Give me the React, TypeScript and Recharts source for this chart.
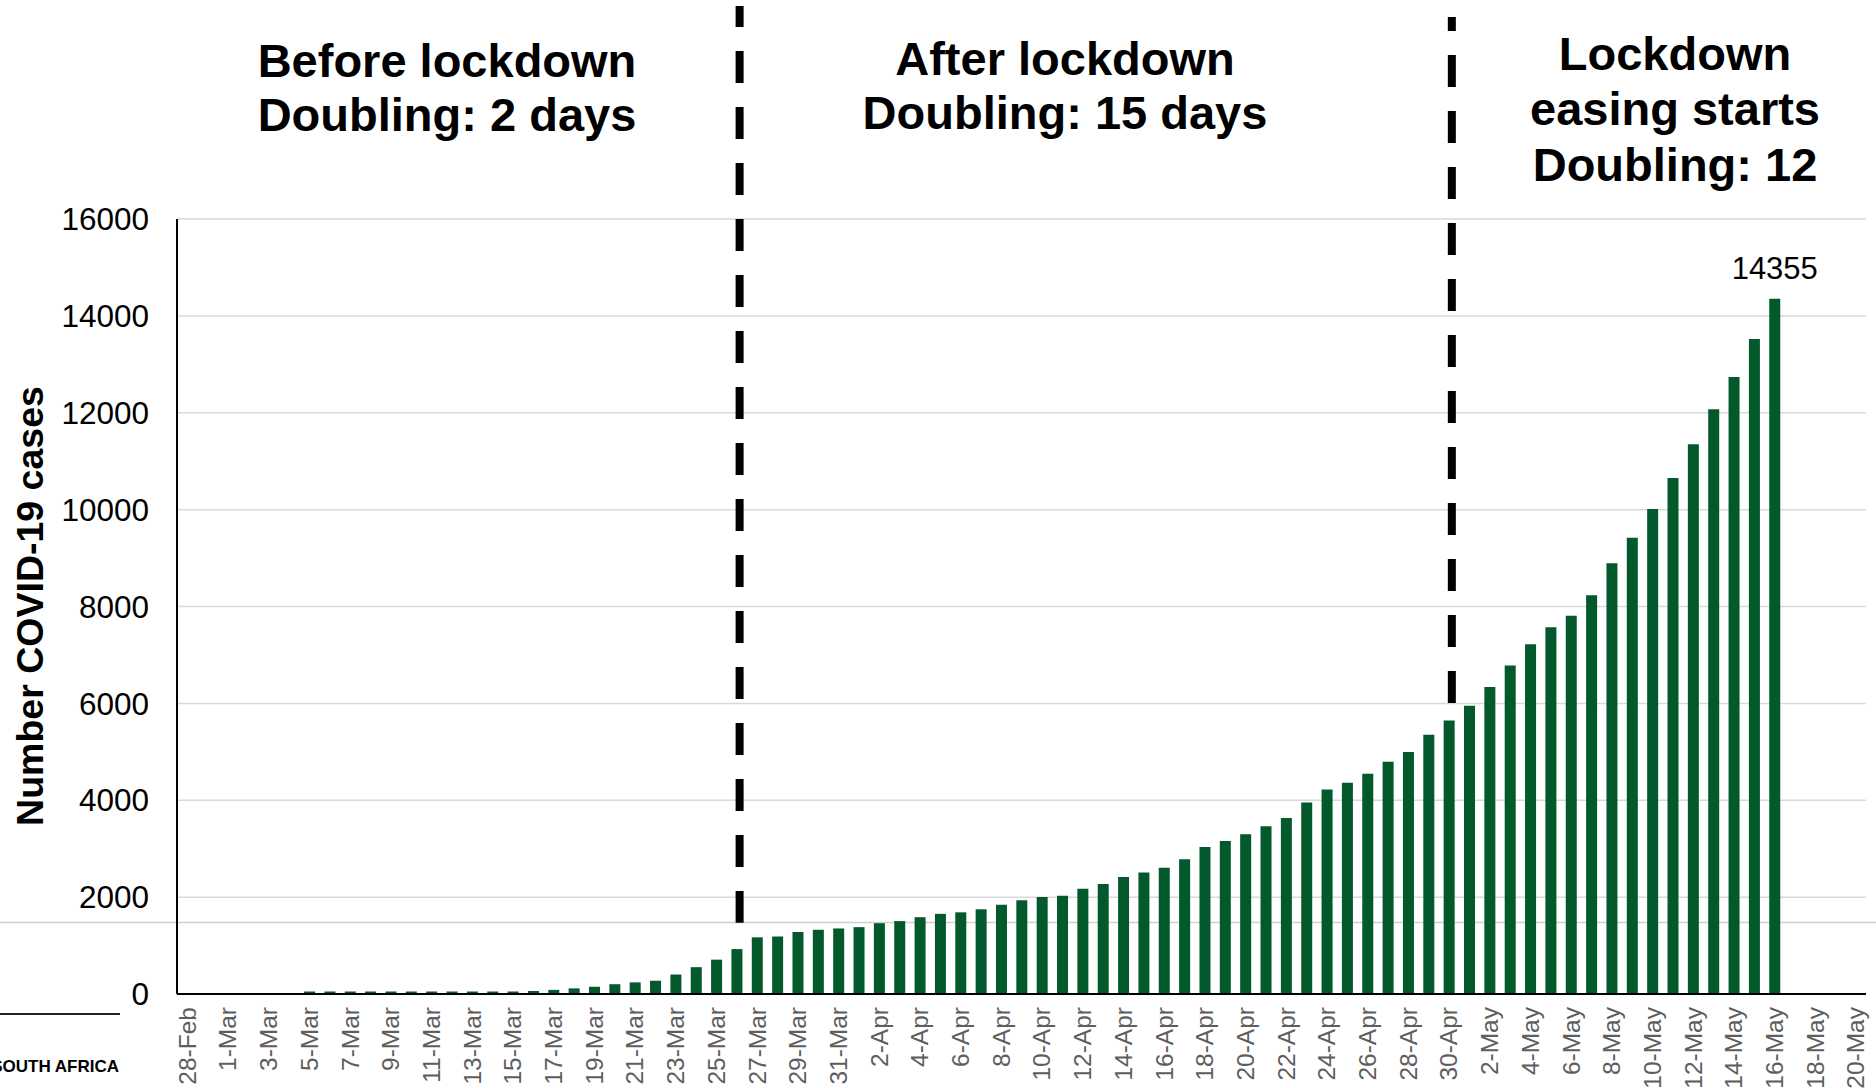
import React from 'react';
import { BarChart, Bar, XAxis, YAxis, CartesianGrid, ReferenceLine, LabelList } from 'recharts';

const FONT = '"Liberation Sans", Arial, Helvetica, sans-serif';

// Tick labels (dates)
const febDates = ['28-Feb', '29-Feb'];
const marDates = [
  '1-Mar', '2-Mar', '3-Mar', '4-Mar', '5-Mar', '6-Mar', '7-Mar', '8-Mar', '9-Mar', '10-Mar',
  '11-Mar', '12-Mar', '13-Mar', '14-Mar', '15-Mar', '16-Mar', '17-Mar', '18-Mar', '19-Mar', '20-Mar',
  '21-Mar', '22-Mar', '23-Mar', '24-Mar', '25-Mar', '26-Mar', '27-Mar', '28-Mar', '29-Mar', '30-Mar', '31-Mar',
];
const aprDates = [
  '1-Apr', '2-Apr', '3-Apr', '4-Apr', '5-Apr', '6-Apr', '7-Apr', '8-Apr', '9-Apr', '10-Apr',
  '11-Apr', '12-Apr', '13-Apr', '14-Apr', '15-Apr', '16-Apr', '17-Apr', '18-Apr', '19-Apr', '20-Apr',
  '21-Apr', '22-Apr', '23-Apr', '24-Apr', '25-Apr', '26-Apr', '27-Apr', '28-Apr', '29-Apr', '30-Apr',
];
const mayDates = [
  '1-May', '2-May', '3-May', '4-May', '5-May', '6-May', '7-May', '8-May', '9-May', '10-May',
  '11-May', '12-May', '13-May', '14-May', '15-May', '16-May', '17-May', '18-May', '19-May', '20-May',
];

// Cumulative COVID-19 cases
const febCases = [0, 0];
const marCases = [
  0, 0, 0, 0, 1, 1, 2, 3, 7, 7,
  13, 16, 24, 38, 51, 62, 85, 116, 150, 202,
  240, 274, 402, 554, 709, 927, 1170, 1187, 1280, 1326, 1353,
];
const aprCases = [
  1380, 1462, 1505, 1585, 1655, 1686, 1749, 1845, 1934, 2003,
  2028, 2173, 2272, 2415, 2506, 2605, 2783, 3034, 3158, 3300,
  3465, 3635, 3953, 4220, 4361, 4546, 4793, 4996, 5350, 5647,
];
const mayCases = [
  5951, 6336, 6783, 7220, 7572, 7808, 8232, 8895, 9420, 10015,
  10652, 11350, 12074, 12739, 13524, 14355, null, null, null, null,
];

const yTicks = [0, 2000, 4000, 6000, 8000, 10000, 12000, 14000, 16000];

const lockdownDate = '26-Mar';
const easingDate = '30-Apr';

const dates = [...febDates, ...marDates, ...aprDates, ...mayDates];
const allCases = [...febCases, ...marCases, ...aprCases, ...mayCases];
const data = dates.map((d, i) => ({ date: d, cases: allCases[i] }));
const peak = Math.max(...(allCases.filter((v) => v != null) as number[]));

const XTick = (props: any) => {
  const { x, y, payload } = props;
  return (
    <text
      transform={`translate(${x},${y}) rotate(-90)`}
      textAnchor="end"
      dy="0.35em"
      fontSize={24.5}
      fill="#5e5e5e"
      fontFamily={FONT}
    >
      {payload.value}
    </text>
  );
};

const dashedShape = (offset: number) => (p: any) => (
  <line
    x1={p.x1 + 3}
    y1={p.y1}
    x2={p.x2 + 3}
    y2={p.y2}
    stroke="#000"
    strokeWidth={8}
    strokeDasharray="32 24"
    strokeDashoffset={offset}
  />
);

const PeakLabel = (p: any) => {
  if (p.value !== peak) return null;
  return (
    <text x={p.x + p.width / 2} y={p.y - 20} textAnchor="middle" fontSize={31} fill="#000" fontFamily={FONT}>
      {p.value}
    </text>
  );
};

const titleStyle = { fontFamily: FONT, fontWeight: 700, fontSize: 47, fill: '#000' } as const;

export default function App() {
  return (
    <div style={{ position: 'absolute', left: 0, top: 0, width: 1876, height: 1088, background: '#fff', overflow: 'hidden' }}>
      <svg width={1876} height={1088} style={{ position: 'absolute', left: 0, top: 0 }}>
        <line x1={0} y1={922.5} x2={1876} y2={922.5} stroke="#d0d0d0" strokeWidth={1.5} />
        <line x1={0} y1={1014} x2={120} y2={1014} stroke="#222" strokeWidth={2} />
        <text x={119} y={1072} textAnchor="end" fontFamily={FONT} fontWeight={700} fontSize={17} fill="#000">
          SOUTH AFRICA
        </text>
        <text textAnchor="middle" style={titleStyle}>
          <tspan x={447} y={77}>Before lockdown</tspan>
          <tspan x={447} y={131}>Doubling: 2 days</tspan>
        </text>
        <text textAnchor="middle" style={titleStyle}>
          <tspan x={1065} y={75}>After lockdown</tspan>
          <tspan x={1065} y={129}>Doubling: 15 days</tspan>
        </text>
        <text textAnchor="middle" style={titleStyle}>
          <tspan x={1675} y={70}>Lockdown</tspan>
          <tspan x={1675} y={125}>easing starts</tspan>
          <tspan x={1675} y={181}>Doubling: 12</tspan>
        </text>
        <text
          transform="translate(30,606) rotate(-90)"
          textAnchor="middle"
          dy="0.35em"
          fontFamily={FONT}
          fontWeight={700}
          fontSize={37.5}
          fill="#000"
        >
          Number COVID-19 cases
        </text>
      </svg>
      <div style={{ position: 'absolute', left: 0, top: 0 }}>
        <BarChart
          width={1876}
          height={1088}
          data={data}
          margin={{ top: 219, right: 10, left: 0, bottom: 0 }}
          barCategoryGap="46%"
        >
          <CartesianGrid vertical={false} stroke="#d9d9d9" strokeWidth={1.5} />
          <XAxis
            dataKey="date"
            interval={1}
            height={94}
            tickLine={false}
            tickSize={0}
            tickMargin={13}
            axisLine={{ stroke: '#000', strokeWidth: 2 }}
            tick={<XTick />}
          />
          <YAxis
            width={177}
            domain={[0, 16000]}
            ticks={yTicks}
            tickLine={false}
            tickSize={0}
            tickMargin={28}
            axisLine={{ stroke: '#000', strokeWidth: 2 }}
            tick={{ fill: '#000', fontSize: 31.5, fontFamily: FONT }}
          />
          <Bar
            dataKey="cases"
            fill="#03592b"
            barSize={11}
            minPointSize={(v: any) => (v > 0 ? 2.5 : 0)}
            isAnimationActive={false}
          >
            <LabelList dataKey="cases" content={PeakLabel} />
          </Bar>
          <ReferenceLine
            segment={[{ x: lockdownDate, y: 20397 }, { x: lockdownDate, y: 1472 }]}
            ifOverflow="visible"
            shape={dashedShape(11)}
          />
          <ReferenceLine
            segment={[{ x: easingDate, y: 20170 }, { x: easingDate, y: 6008 }]}
            ifOverflow="visible"
            shape={dashedShape(18)}
          />
        </BarChart>
      </div>
    </div>
  );
}
